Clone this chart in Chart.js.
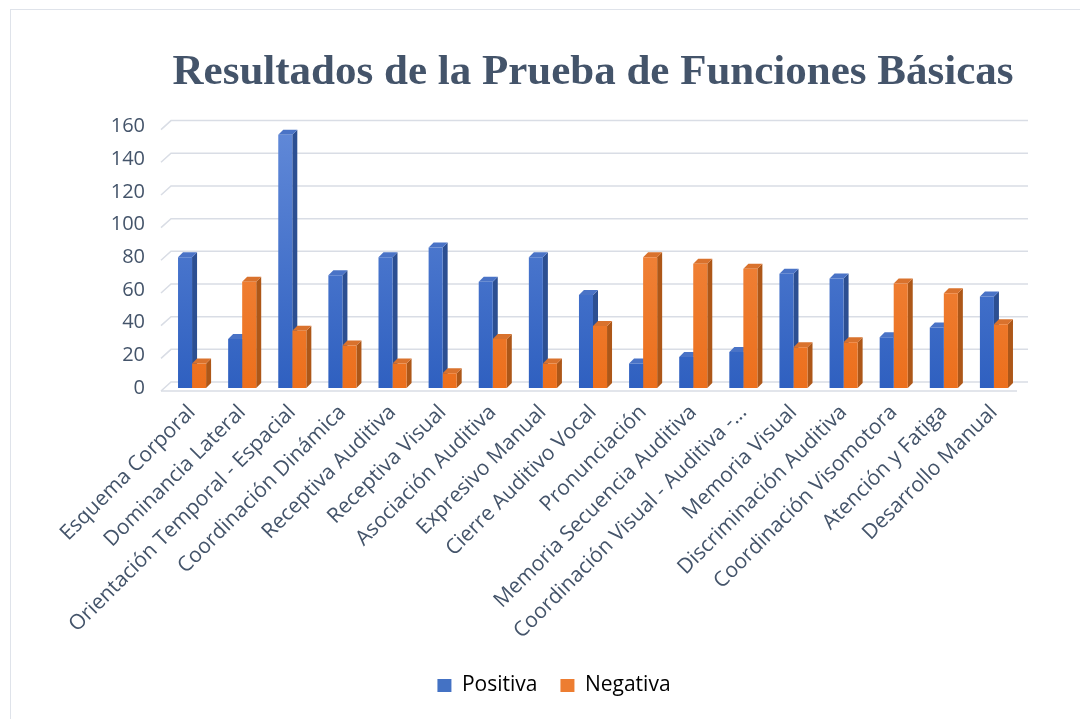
<!DOCTYPE html>
<html lang="es">
<head>
<meta charset="utf-8">
<title>Resultados de la Prueba de Funciones Básicas</title>
<script src="https://cdn.jsdelivr.net/npm/chart.js@4.4.0/dist/chart.umd.min.js"></script>
<style>
  html, body { margin: 0; padding: 0; background: #fff; }
  #frame { position: absolute; left: 10px; top: 9px; width: 1100px; height: 740px; border: 1px solid #dfe3ea; }
  #wrap { position: absolute; left: 0; top: 0; width: 1080px; height: 719px; }
</style>
</head>
<body>
<div id="frame"></div>
<div id="wrap"><canvas id="chart" width="1080" height="719"></canvas></div>
<script>
// Funciones básicas evaluadas
const CATEGORIES = [
  "Esquema Corporal",
  "Dominancia Lateral",
  "Orientación Temporal - Espacial",
  "Coordinación Dinámica",
  "Receptiva Auditiva",
  "Receptiva Visual",
  "Asociación Auditiva",
  "Expresivo Manual",
  "Cierre Auditivo Vocal",
  "Pronunciación",
  "Memoria Secuencia Auditiva",
  "Coordinación Visual - Auditiva -...",
  "Memoria Visual",
  "Discriminación Auditiva",
  "Coordinación Visomotora",
  "Atención y Fatiga",
  "Desarrollo Manual",
];
const POSITIVA = [80, 30, 155, 69, 80, 86, 65, 80, 57, 15, 19, 22, 70, 67, 31, 37, 56];
const NEGATIVA = [15, 65, 35, 26, 15, 9, 30, 15, 38, 80, 76, 73, 25, 28, 64, 58, 39];
const Y_TICKS = [0, 20, 40, 60, 80, 100, 120, 140, 160];

const TEXT = "#44546A";
const DEPTH = 5;

function vGrad(chart, top, bottom) {
  const a = chart.chartArea;
  if (!a) return bottom;
  const g = chart.ctx.createLinearGradient(0, a.top, 0, a.bottom);
  g.addColorStop(0, top);
  g.addColorStop(1, bottom);
  return g;
}

// 3D look: back grid + side / top faces of every bar
const fake3d = {
  id: "fake3d",
  beforeDatasetsDraw(chart) {
    const { ctx, chartArea: a, scales: { y } } = chart;
    ctx.save();
    ctx.strokeStyle = "#d9dde5";
    ctx.lineWidth = 1.5;
    y.ticks.forEach(t => {
      const py = y.getPixelForValue(t.value);
      ctx.beginPath();
      ctx.moveTo(a.left - 6, py + 3);
      ctx.lineTo(a.left + 4, py - 6);
      ctx.lineTo(a.right + 9, py - 6);
      ctx.stroke();
    });
    const p0 = y.getPixelForValue(0);
    ctx.beginPath();
    ctx.moveTo(a.left - 6, p0 + 3);
    ctx.lineTo(a.right - 2, p0 + 3);
    ctx.stroke();

    const faces = [
      { side: "#2c4f92", top: "#4a73c6" },
      { side: "#ad5718", top: "#d9722d" },
    ];
    chart.data.datasets.forEach((ds, di) => {
      const meta = chart.getDatasetMeta(di);
      meta.data.forEach(bar => {
        const l = bar.x - bar.width / 2, r = bar.x + bar.width / 2;
        const t = bar.y, b = bar.base;
        ctx.fillStyle = faces[di].side;
        ctx.beginPath();
        ctx.moveTo(r, t);
        ctx.lineTo(r + DEPTH, t - DEPTH);
        ctx.lineTo(r + DEPTH, b - DEPTH);
        ctx.lineTo(r, b);
        ctx.closePath();
        ctx.fill();
        ctx.fillStyle = faces[di].top;
        ctx.beginPath();
        ctx.moveTo(l, t);
        ctx.lineTo(l + DEPTH, t - DEPTH);
        ctx.lineTo(r + DEPTH, t - DEPTH);
        ctx.lineTo(r, t);
        ctx.closePath();
        ctx.fill();
      });
    });
    ctx.restore();
  }
};

new Chart(document.getElementById("chart"), {
  type: "bar",
  data: {
    labels: CATEGORIES,
    datasets: [
      {
        label: "Positiva",
        data: POSITIVA,
        backgroundColor: c => vGrad(c.chart, "#6189d8", "#2f60c0"),
        categoryPercentage: 0.56,
        barPercentage: 1,
      },
      {
        label: "Negativa",
        data: NEGATIVA,
        backgroundColor: c => vGrad(c.chart, "#f2914f", "#ec6f1c"),
        categoryPercentage: 0.56,
        barPercentage: 1,
      },
    ],
  },
  options: {
    responsive: false,
    animation: false,
    layout: { padding: { left: 89, right: 61, top: 0, bottom: 13 } },
    plugins: {
      title: {
        display: true,
        text: "Resultados de la Prueba de Funciones Básicas",
        fullSize: false,
        color: TEXT,
        font: { family: "'Liberation Serif', 'Times New Roman', serif", size: 43, weight: "bold" },
        padding: { top: 47, bottom: 28 },
      },
      legend: {
        position: "bottom",
        labels: {
          color: TEXT,
          font: { family: "'Open Sans', sans-serif", size: 21 },
          boxWidth: 14,
          boxHeight: 13,
          padding: 23,
          generateLabels: chart => chart.data.datasets.map((ds, i) => ({
            text: ds.label,
            fillStyle: i === 0 ? "#4472C4" : "#ED7D31",
            strokeStyle: "transparent",
            lineWidth: 0,
            datasetIndex: i,
          })),
        },
      },
      tooltip: { enabled: false },
    },
    scales: {
      x: {
        grid: { display: false, drawTicks: false },
        border: { display: false },
        ticks: {
          autoSkip: false,
          minRotation: 45,
          maxRotation: 45,
          padding: 12,
          color: TEXT,
          font: { family: "'Open Sans', sans-serif", size: 21 },
        },
        afterFit: s => { s.height = 264; },
      },
      y: {
        min: 0,
        max: 160,
        grid: { display: false, drawTicks: false },
        border: { display: false },
        afterBuildTicks: s => { s.ticks = Y_TICKS.map(v => ({ value: v })); },
        ticks: {
          padding: 22,
          color: TEXT,
          font: { family: "'Open Sans', sans-serif", size: 20 },
        },
        afterFit: s => { s.width = 78; },
      },
    },
  },
  plugins: [fake3d],
});
</script>
</body>
</html>
